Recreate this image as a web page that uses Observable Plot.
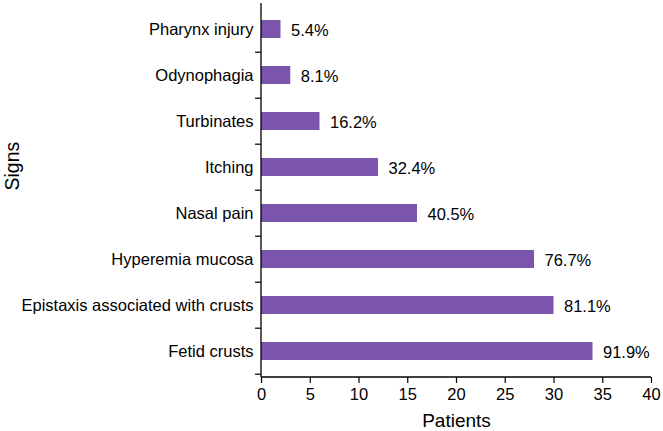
<!DOCTYPE html>
<html>
<head>
<meta charset="utf-8">
<script src="https://cdn.jsdelivr.net/npm/d3@7"></script>
<script src="https://cdn.jsdelivr.net/npm/@observablehq/plot@0.6"></script>
<style>
  html, body { margin: 0; padding: 0; background: #fff; }
  #chart { width: 663px; height: 431px; }
</style>
</head>
<body>
<div id="chart"></div>
<script>
const categories = ["Pharynx injury", "Odynophagia", "Turbinates", "Itching", "Nasal pain", "Hyperemia mucosa", "Epistaxis associated with crusts", "Fetid crusts"];
const patients = [2, 3, 6, 12, 16, 28, 30, 34];
const percentLabels = ["5.4%", "8.1%", "16.2%", "32.4%", "40.5%", "76.7%", "81.1%", "91.9%"];
const xTicks = [0, 5, 10, 15, 20, 25, 30, 35, 40];

const data = categories.map((c, i) => ({sign: c, patients: patients[i], label: percentLabels[i]}));

const FONT = "'Liberation Sans', Arial, Helvetica, sans-serif";
const BAR = "#7b55ab";
const FS = 16.5;
const PAD = 0.6;

// boundary ticks on the band axis + axis lines
function axisLines(index, scales, values, dimensions) {
  const {marginLeft, marginRight, marginTop, marginBottom, width, height} = dimensions;
  const y = scales.y;
  const step = y(categories[1]) - y(categories[0]);
  const g = d3.create("svg:g").attr("stroke", "#000").attr("fill", "none");
  const x0 = marginLeft;
  const yb = height - marginBottom;
  g.append("line").attr("x1", x0).attr("x2", x0).attr("y1", marginTop).attr("y2", yb).attr("stroke-width", 1.3);
  g.append("line").attr("x1", x0).attr("x2", width - marginRight).attr("y1", yb).attr("y2", yb).attr("stroke-width", 1.3);
  categories.forEach((c) => {
    const yy = y(c) + step * (1 - PAD / 2);
    g.append("line").attr("x1", x0 - 6).attr("x2", x0).attr("y1", yy).attr("y2", yy).attr("stroke-width", 1.2);
  });
  return g.node();
}

const chart = Plot.plot({
  width: 663,
  height: 431,
  marginLeft: 261,
  marginRight: 12,
  marginTop: 3,
  marginBottom: 54,
  style: {fontFamily: FONT, fontSize: FS + "px", color: "#000", background: "#fff"},
  x: {domain: [0, 40], ticks: xTicks},
  y: {domain: categories, paddingInner: PAD, paddingOuter: PAD / 2},
  marks: [
    Plot.barX(data, {x: "patients", y: "sign", fill: BAR}),
    Plot.text(data, {x: "patients", y: "sign", text: "label", textAnchor: "start", dx: 10, dy: 1, fontSize: FS, fill: "#000"}),
    Plot.axisY({tickSize: 0, tickPadding: 8, label: null, fontSize: FS}),
    Plot.axisX({ticks: xTicks, tickSize: 6, tickPadding: 5, label: null, fontSize: FS, strokeWidth: 1.2}),
    Plot.text(["Patients"], {frameAnchor: "bottom", dy: 49, fontSize: 19, fill: "#000"}),
    Plot.text(["Signs"], {frameAnchor: "left", dx: -249, rotate: -90, fontSize: 19.5, fill: "#000"}),
    axisLines
  ]
});
document.getElementById("chart").appendChild(chart);
</script>
</body>
</html>
